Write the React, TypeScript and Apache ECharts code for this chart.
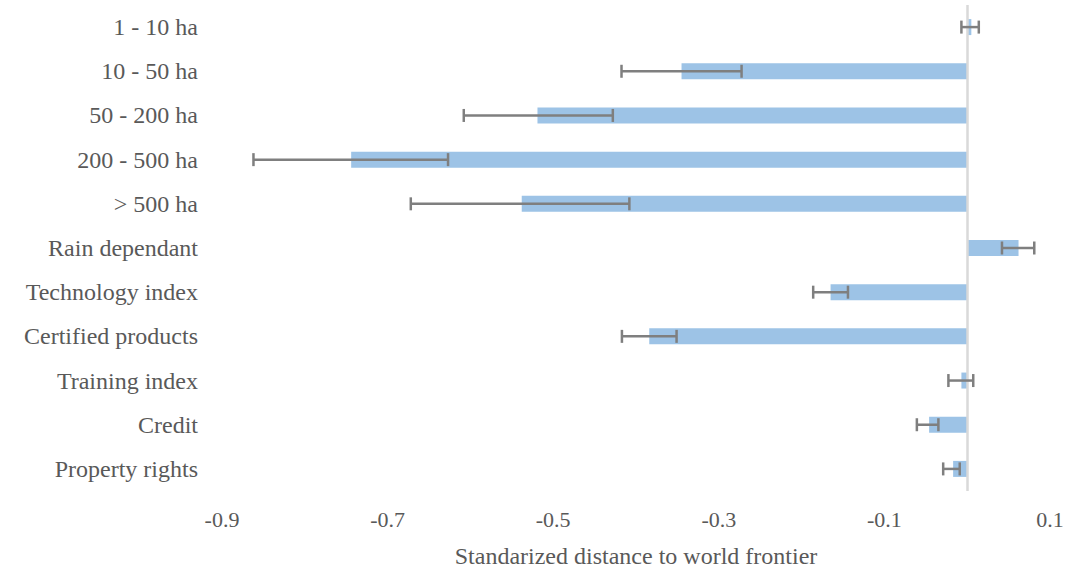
import React, { useEffect, useRef } from "react";
import * as echarts from "echarts";

const categories = [
  "1 - 10 ha",
  "10 - 50 ha",
  "50 - 200 ha",
  "200 - 500 ha",
  "> 500 ha",
  "Rain dependant",
  "Technology index",
  "Certified products",
  "Training index",
  "Credit",
  "Property rights",
];
const values = [0.005, -0.345, -0.519, -0.744, -0.538, 0.062, -0.165, -0.384, -0.007, -0.046, -0.017];
const errors = [0.0105, 0.0725, 0.09, 0.1175, 0.132, 0.0195, 0.021, 0.033, 0.015, 0.013, 0.01];
const errorCenters = [0.0035, -0.345, -0.518, -0.7445, -0.54, 0.0615, -0.165, -0.384, -0.0077, -0.0478, -0.019];
const axisName = "Standarized distance to world frontier";

const FONT = "Liberation Serif";
const TEXT = "#595959";

export default function App() {
  const ref = useRef<HTMLDivElement>(null);
  useEffect(() => {
    if (!ref.current) return;
    const chart = echarts.init(ref.current, null, { renderer: "svg" });
    const errData = categories.map((_, i) => [errorCenters[i] - errors[i], errorCenters[i] + errors[i], i]);
    chart.setOption({
      animation: false,
      grid: { left: 222, right: 17, top: 5, bottom: 78, containLabel: false, outerBoundsMode: "none" },
      xAxis: {
        type: "value",
        min: -0.9,
        max: 0.1,
        interval: 0.2,
        axisLine: { show: false },
        axisTick: { show: false },
        splitLine: { show: false },
        axisLabel: { color: TEXT, fontFamily: FONT, fontSize: 22, margin: 17 },
        name: axisName,
        nameLocation: "middle",
        nameGap: 53,
        nameTextStyle: { color: TEXT, fontFamily: FONT, fontSize: 24 },
      },
      yAxis: {
        type: "category",
        data: categories,
        inverse: true,
        axisLine: { show: false },
        axisTick: { show: false },
        splitLine: { show: false },
        axisLabel: { color: TEXT, fontFamily: FONT, fontSize: 24, margin: 24 },
      },
      series: [
        {
          type: "bar",
          data: values,
          barWidth: 16,
          itemStyle: { color: "#9DC3E6" },
          markLine: {
            silent: true,
            symbol: "none",
            label: { show: false },
            lineStyle: { color: "#D9D9D9", width: 2.5, type: "solid" },
            data: [{ xAxis: 0 }],
          },
        },
        {
          type: "custom",
          data: errData,
          encode: { x: [0, 1], y: 2 },
          z: 10,
          renderItem: (params: any, api: any) => {
            const lo = api.coord([api.value(0), api.value(2)]);
            const hi = api.coord([api.value(1), api.value(2)]);
            const h = 6.5;
            const style = { stroke: "#7F7F7F", lineWidth: 2.5 };
            return {
              type: "group",
              children: [
                { type: "line", shape: { x1: lo[0], y1: lo[1], x2: hi[0], y2: hi[1] }, style },
                { type: "line", shape: { x1: lo[0], y1: lo[1] - h, x2: lo[0], y2: lo[1] + h }, style },
                { type: "line", shape: { x1: hi[0], y1: hi[1] - h, x2: hi[0], y2: hi[1] + h }, style },
              ],
            };
          },
        },
      ],
    });
    return () => chart.dispose();
  }, []);
  return <div ref={ref} style={{ position: "absolute", left: 0, top: 0, width: 1067, height: 569 }} />;
}
